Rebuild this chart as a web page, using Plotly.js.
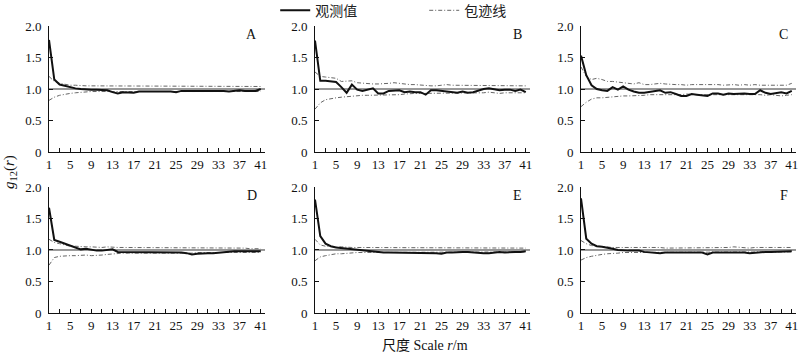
<!DOCTYPE html>
<html>
<head>
<meta charset="utf-8">
<script src="https://cdn.plot.ly/plotly-3.0.1.min.js"></script>
<style>html,body{margin:0;padding:0;background:#fff;}#chart{width:800px;height:353px;}</style>
</head>
<body>
<div id="chart"></div>
<script>
// scale r (m)
const scaleR = Array.from({length: 41}, (_, i) => i + 1);
const panelLetters = ["A", "B", "C", "D", "E", "F"];
const refLineX = [1, 41.8];
const refLineY = [1, 1];
const yTickVals = [0, 0.5, 1, 1.5, 2];
const yTickText = ["0", "0.5", "1.0", "1.5", "2.0"];

const obsA = [1.78,1.15,1.07,1.05,1.02,1.01,1.00,0.99,0.99,0.99,0.98,0.98,0.95,0.93,0.95,0.95,0.94,0.96,0.96,0.97,0.97,0.96,0.96,0.96,0.95,0.97,0.97,0.97,0.98,0.97,0.97,0.97,0.97,0.97,0.96,0.97,0.98,0.97,0.97,0.97,1.00];
const upA  = [1.20,1.12,1.09,1.07,1.06,1.06,1.05,1.05,1.05,1.05,1.04,1.04,1.04,1.04,1.04,1.04,1.04,1.04,1.04,1.04,1.04,1.04,1.04,1.04,1.04,1.04,1.04,1.04,1.04,1.04,1.04,1.04,1.04,1.04,1.04,1.04,1.04,1.04,1.04,1.04,1.04];
const loA  = [0.82,0.87,0.90,0.92,0.93,0.94,0.95,0.95,0.96,0.96,0.96,0.96,0.96,0.96,0.96,0.96,0.96,0.96,0.96,0.96,0.96,0.96,0.96,0.96,0.96,0.96,0.96,0.96,0.96,0.96,0.96,0.96,0.96,0.96,0.96,0.96,0.96,0.96,0.96,0.96,0.96];

const obsB = [1.77,1.13,1.13,1.12,1.11,1.03,0.94,1.07,0.99,0.97,0.99,1.01,0.93,0.93,0.97,0.98,0.98,0.95,0.96,0.95,0.95,0.91,0.98,0.98,0.97,0.95,0.94,0.94,0.96,0.94,0.95,0.98,1.00,1.01,0.99,0.98,0.99,0.99,0.97,0.99,0.95];
const upB  = [1.27,1.20,1.19,1.18,1.17,1.12,1.12,1.13,1.10,1.09,1.08,1.08,1.08,1.08,1.09,1.10,1.09,1.07,1.07,1.07,1.06,1.05,1.05,1.05,1.06,1.07,1.06,1.06,1.06,1.05,1.06,1.05,1.05,1.06,1.05,1.05,1.05,1.05,1.05,1.06,1.05];
const loB  = [0.68,0.78,0.83,0.85,0.86,0.87,0.88,0.88,0.89,0.90,0.90,0.90,0.91,0.91,0.91,0.90,0.91,0.92,0.93,0.93,0.93,0.93,0.93,0.94,0.93,0.94,0.94,0.94,0.93,0.94,0.94,0.94,0.94,0.95,0.94,0.93,0.94,0.94,0.93,0.94,0.94];

const obsC = [1.53,1.22,1.06,1.00,0.98,0.97,1.03,0.99,1.04,0.99,0.96,0.94,0.94,0.95,0.96,0.98,0.94,0.95,0.92,0.89,0.89,0.92,0.91,0.90,0.89,0.93,0.93,0.91,0.93,0.92,0.93,0.93,0.92,0.92,0.98,0.94,0.92,0.94,0.95,0.93,0.97];
const upC  = [1.35,1.20,1.15,1.17,1.15,1.12,1.12,1.11,1.10,1.08,1.08,1.10,1.07,1.07,1.08,1.09,1.08,1.07,1.07,1.07,1.06,1.07,1.07,1.08,1.07,1.07,1.07,1.06,1.07,1.07,1.06,1.07,1.06,1.07,1.06,1.06,1.07,1.06,1.06,1.06,1.09];
const loC  = [0.72,0.79,0.84,0.86,0.86,0.87,0.87,0.88,0.89,0.89,0.89,0.90,0.90,0.91,0.91,0.90,0.90,0.90,0.91,0.91,0.92,0.91,0.91,0.91,0.91,0.91,0.91,0.91,0.92,0.91,0.91,0.92,0.91,0.91,0.91,0.90,0.91,0.90,0.89,0.90,0.91];

const obsD = [1.67,1.16,1.13,1.10,1.07,1.03,1.01,1.02,1.00,0.99,0.99,1.00,1.01,0.97,0.97,0.97,0.96,0.96,0.96,0.96,0.96,0.96,0.96,0.97,0.97,0.96,0.95,0.93,0.94,0.95,0.95,0.95,0.96,0.96,0.98,0.98,0.98,0.98,0.97,0.97,0.98];
const upD  = [1.17,1.12,1.10,1.08,1.06,1.06,1.05,1.05,1.05,1.04,1.04,1.05,1.04,1.04,1.04,1.04,1.04,1.03,1.04,1.03,1.03,1.03,1.03,1.03,1.03,1.03,1.03,1.03,1.03,1.03,1.03,1.03,1.03,1.03,1.03,1.03,1.03,1.03,1.02,1.02,1.02];
const loD  = [0.76,0.88,0.90,0.91,0.91,0.91,0.92,0.92,0.91,0.91,0.92,0.93,0.94,0.94,0.95,0.95,0.95,0.95,0.95,0.95,0.95,0.95,0.95,0.94,0.95,0.95,0.95,0.95,0.96,0.96,0.96,0.96,0.96,0.96,0.96,0.96,0.96,0.96,0.96,0.96,0.96];

const obsE = [1.80,1.22,1.10,1.06,1.04,1.03,1.02,1.01,1.00,0.99,0.99,0.98,0.97,0.96,0.96,0.96,0.96,0.96,0.96,0.96,0.96,0.95,0.95,0.95,0.94,0.96,0.96,0.97,0.97,0.97,0.96,0.96,0.95,0.95,0.96,0.97,0.96,0.97,0.97,0.97,0.98];
const upE  = [1.17,1.08,1.06,1.05,1.05,1.05,1.04,1.04,1.04,1.04,1.03,1.03,1.04,1.03,1.03,1.03,1.03,1.03,1.04,1.03,1.03,1.03,1.03,1.03,1.03,1.03,1.03,1.03,1.03,1.04,1.03,1.03,1.03,1.03,1.03,1.03,1.03,1.03,1.03,1.03,1.03];
const loE  = [0.83,0.89,0.91,0.93,0.94,0.94,0.95,0.95,0.96,0.96,0.96,0.96,0.96,0.97,0.97,0.97,0.97,0.97,0.97,0.97,0.97,0.97,0.97,0.97,0.97,0.97,0.97,0.97,0.97,0.97,0.97,0.97,0.97,0.97,0.97,0.97,0.97,0.97,0.97,0.97,0.97];

const obsF = [1.82,1.18,1.10,1.06,1.05,1.04,1.02,1.00,0.99,0.99,0.99,0.99,0.97,0.96,0.95,0.95,0.96,0.96,0.96,0.96,0.96,0.95,0.96,0.96,0.93,0.96,0.96,0.96,0.97,0.96,0.96,0.96,0.95,0.96,0.97,0.97,0.97,0.97,0.97,0.97,0.98];
const upF  = [1.15,1.10,1.07,1.06,1.05,1.05,1.04,1.04,1.04,1.04,1.04,1.05,1.05,1.04,1.04,1.04,1.03,1.03,1.04,1.04,1.04,1.04,1.04,1.04,1.04,1.04,1.04,1.04,1.04,1.05,1.04,1.04,1.03,1.04,1.04,1.04,1.04,1.04,1.04,1.04,1.04];
const loF  = [0.84,0.88,0.90,0.92,0.93,0.94,0.94,0.95,0.96,0.96,0.97,0.97,0.97,0.97,0.97,0.97,0.97,0.97,0.97,0.97,0.97,0.97,0.97,0.97,0.97,0.97,0.97,0.97,0.97,0.97,0.97,0.97,0.97,0.97,0.97,0.97,0.97,0.97,0.97,0.97,0.97];

const observed = [obsA, obsB, obsC, obsD, obsE, obsF];
const upper = [upA, upB, upC, upD, upE, upF];
const lower = [loA, loB, loC, loD, loE, loF];

const xDomains = [[0.06125, 0.33125], [0.39375, 0.6625], [0.72625, 0.995]];
const yDomains = [[0.5694, 0.9263], [0.1133, 0.4703]];

const serif = "Liberation Serif, Times New Roman, serif";
const traces = [];
const layout = {
  width: 800, height: 353,
  margin: {l: 0, r: 0, t: 0, b: 0, autoexpand: false},
  paper_bgcolor: "#fff", plot_bgcolor: "#fff",
  font: {family: serif, size: 13, color: "#111"},
  showlegend: true,
  legend: {orientation: "h", x: 0.344, xanchor: "left", y: 1.015, yanchor: "top",
    font: {family: "Noto Sans CJK SC", size: 14, color: "#222"},
    entrywidth: 104, entrywidthmode: "pixels", bgcolor: "rgba(0,0,0,0)"},
  annotations: [],
};

for (let i = 0; i < 6; i++) {
  const n = i === 0 ? "" : String(i + 1);
  const xa = "x" + n, ya = "y" + n;
  const col = i % 3, row = Math.floor(i / 3);
  layout["xaxis" + n] = {
    domain: xDomains[col], anchor: ya, range: [1, 41.8],
    showline: true, linecolor: "#111", linewidth: 1, mirror: false,
    showgrid: false, zeroline: false,
    tick0: 1, dtick: 4, ticks: "inside", ticklen: 4, tickcolor: "#111",
    minor: {tick0: 1, dtick: 2, ticks: "inside", ticklen: 4, tickcolor: "#111"},
    tickfont: {family: serif, size: 13, color: "#111"}, ticklabelstandoff: 0,
  };
  layout["yaxis" + n] = {
    domain: yDomains[row], anchor: xa, range: [0, 2],
    showline: true, linecolor: "#111", linewidth: 1,
    showgrid: false, zeroline: false,
    tickvals: yTickVals, ticktext: yTickText,
    ticks: "inside", ticklen: 4, tickcolor: "#111",
    tickfont: {family: serif, size: 13, color: "#111"}, ticklabelstandoff: 4,
  };
  traces.push({x: refLineX, y: refLineY, xaxis: xa, yaxis: ya, mode: "lines",
    line: {color: "#333", width: 1}, showlegend: false, hoverinfo: "skip"});
  traces.push({x: scaleR, y: upper[i], xaxis: xa, yaxis: ya, mode: "lines",
    name: "包迹线", legendgroup: "env", showlegend: i === 0, legendrank: 2,
    line: {color: "#666", width: 1, dash: "4px,2px,1px,2px"}});
  traces.push({x: scaleR, y: lower[i], xaxis: xa, yaxis: ya, mode: "lines",
    name: "包迹线", legendgroup: "env", showlegend: false,
    line: {color: "#666", width: 1, dash: "4px,2px,1px,2px"}});
  traces.push({x: scaleR, y: observed[i], xaxis: xa, yaxis: ya, mode: "lines",
    name: "观测值", legendgroup: "obs", showlegend: i === 0, legendrank: 1,
    line: {color: "#111", width: 2}});
  layout.annotations.push({xref: xa + " domain", yref: ya + " domain", x: 0.97, y: 0.93,
    xanchor: "right", yanchor: "middle", showarrow: false, text: panelLetters[i],
    font: {family: serif, size: 14, color: "#111"}});
}

layout.annotations.push({xref: "paper", yref: "paper", x: 10 / 800, y: 1 - 172 / 353,
  xanchor: "center", yanchor: "middle", textangle: -90, showarrow: false,
  text: "<i>g</i><sub>12</sub>(<i>r</i>)", font: {family: serif, size: 15, color: "#111"}});
layout.annotations.push({xref: "paper", yref: "paper", x: 425 / 800, y: 1 - 344 / 353,
  xanchor: "center", yanchor: "middle", showarrow: false,
  text: "<span style=\"font-family:'Noto Sans CJK SC'\">尺度</span> Scale <i>r</i>/m",
  font: {family: serif, size: 14, color: "#111"}});

Plotly.newPlot("chart", traces, layout, {displayModeBar: false, staticPlot: true});
</script>
</body>
</html>
